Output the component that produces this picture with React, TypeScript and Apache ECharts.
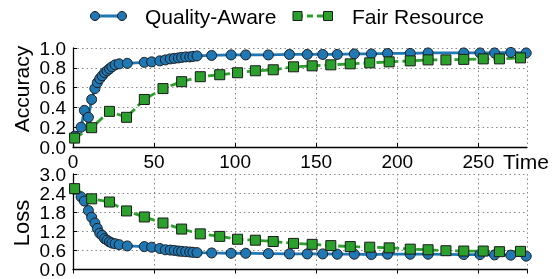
import React, { useEffect, useRef } from "react";
import * as echarts from "echarts";

const qaTime = [1, 5, 7, 9.5, 11.5, 13.5, 15, 16.5, 18, 19.5, 21, 22.5, 24, 26, 28.5, 33.5, 44, 48.5, 53.5, 57, 60, 62.5, 65, 67, 69.5, 72, 74, 76.5, 85.5, 97.5, 106.5, 120.5, 133.5, 144.5, 154, 163, 173.5, 184, 194, 208, 219, 241, 251, 260, 270, 279.5];
const qaAccuracy = [0.11, 0.2, 0.37, 0.3, 0.48, 0.59, 0.65, 0.69, 0.72, 0.75, 0.77, 0.79, 0.81, 0.83, 0.84, 0.845, 0.855, 0.86, 0.87, 0.88, 0.89, 0.895, 0.9, 0.905, 0.91, 0.91, 0.915, 0.92, 0.925, 0.93, 0.93, 0.93, 0.935, 0.935, 0.935, 0.935, 0.94, 0.94, 0.945, 0.945, 0.95, 0.95, 0.95, 0.95, 0.955, 0.95];
const qaLoss = [2.52, 2.28, 2.15, 1.85, 1.64, 1.46, 1.29, 1.14, 1.07, 0.97, 0.92, 0.87, 0.83, 0.81, 0.78, 0.74, 0.72, 0.7, 0.66, 0.62, 0.61, 0.6, 0.58, 0.57, 0.56, 0.55, 0.54, 0.53, 0.52, 0.51, 0.51, 0.5, 0.49, 0.49, 0.49, 0.48, 0.48, 0.47, 0.48, 0.48, 0.48, 0.47, 0.47, 0.46, 0.45, 0.42];

const frTime = [1, 11.5, 22.5, 33, 44, 55.5, 67, 78.5, 90.5, 101.5, 112.5, 123.5, 136, 147.5, 159, 171, 183, 195, 208, 219, 230, 241, 253, 263, 276];
const frAccuracy = [0.09, 0.195, 0.36, 0.3, 0.48, 0.59, 0.66, 0.71, 0.73, 0.75, 0.77, 0.78, 0.81, 0.82, 0.83, 0.84, 0.85, 0.86, 0.87, 0.88, 0.88, 0.885, 0.89, 0.89, 0.9];
const frLoss = [2.54, 2.22, 2.12, 1.84, 1.65, 1.46, 1.27, 1.12, 1.04, 0.95, 0.92, 0.88, 0.82, 0.79, 0.75, 0.72, 0.7, 0.68, 0.64, 0.62, 0.59, 0.58, 0.58, 0.56, 0.57];

const xTicks = [0, 50, 100, 150, 200, 250];
const accTicks = [0, 0.2, 0.4, 0.6, 0.8, 1.0];
const lossTicks = [0, 0.6, 1.2, 1.8, 2.4, 3.0];

const seriesNames = ["Quality-Aware", "Fair Resource"];
const BLUE = "#1f77b4";
const GREEN = "#2ca02c";
const FONT = "Liberation Sans, Arial, sans-serif";

const zip = (xs: number[], ys: number[]) => xs.map((x, i) => [x, ys[i]]);

export default function App() {
  const ref = useRef<HTMLDivElement>(null);
  useEffect(() => {
    if (!ref.current) return;
    const chart = echarts.init(ref.current, undefined, { renderer: "svg" });
    const grid = (top: number, height: number) => ({ left: 73, top, width: 454, height });
    const splitLine = { show: true, lineStyle: { color: "#888", type: [1.5, 3] as any, width: 1 } };
    const axisLine = { show: true, lineStyle: { color: "#000", width: 1.3 } };
    const axisTick = { show: true, inside: true, length: 4, lineStyle: { color: "#000", width: 1 } };
    const labelStyle = { color: "#000", fontSize: 19, lineHeight: 15, fontFamily: FONT, hideOverlap: false };
    const xAxisBase = {
      type: "value",
      min: xTicks[0],
      max: 280,
      interval: xTicks[1] - xTicks[0],
      axisLine,
      axisTick,
      splitLine,
    };
    const blueStyle = (xi: number) => ({
      type: "line",
      xAxisIndex: xi,
      yAxisIndex: xi,
      name: seriesNames[0],
      symbol: "circle",
      symbolSize: 10,
      lineStyle: { color: BLUE, width: 2.8 },
      itemStyle: { color: BLUE, borderColor: "#1a1a1a", borderWidth: 1 },
      clip: true,
    });
    const greenStyle = (xi: number) => ({
      type: "line",
      xAxisIndex: xi,
      yAxisIndex: xi,
      name: seriesNames[1],
      symbol: "rect",
      symbolSize: 10,
      lineStyle: { color: GREEN, width: 2.8, type: [9, 4] as any },
      itemStyle: { color: GREEN, borderColor: "#1a1a1a", borderWidth: 1 },
      clip: true,
    });
    const yLabel = { ...labelStyle, margin: 7, showMinLabel: true, showMaxLabel: true, formatter: (v: number) => v.toFixed(1) };
    const option: any = {
      animation: false,
      grid: [grid(48, 99), grid(174, 100)],
      xAxis: [
        {
          ...xAxisBase,
          gridIndex: 0,
          position: "bottom",
          axisLabel: { ...labelStyle, margin: 7, showMinLabel: true, showMaxLabel: false },
        },
        {
          ...xAxisBase,
          gridIndex: 1,
          position: "top",
          axisLabel: { show: false },
        },
      ],
      yAxis: [
        {
          type: "value",
          gridIndex: 0,
          min: accTicks[0],
          max: accTicks[accTicks.length - 1],
          interval: accTicks[1] - accTicks[0],
          axisLine,
          axisTick,
          splitLine,
          axisLabel: yLabel,
        },
        {
          type: "value",
          gridIndex: 1,
          min: lossTicks[0],
          max: lossTicks[lossTicks.length - 1],
          interval: lossTicks[1] - lossTicks[0],
          axisLine,
          axisTick,
          splitLine,
          axisLabel: yLabel,
        },
      ],
      series: [
        { ...blueStyle(0), data: zip(qaTime, qaAccuracy) },
        { ...greenStyle(0), data: zip(frTime, frAccuracy) },
        { ...blueStyle(1), data: zip(qaTime, qaLoss) },
        { ...greenStyle(1), data: zip(frTime, frLoss) },
      ],
      graphic: [
        // legend: Quality-Aware
        { type: "line", shape: { x1: 91, y1: 16, x2: 126, y2: 16 }, style: { stroke: BLUE, lineWidth: 2.8 } },
        { type: "circle", shape: { cx: 95, cy: 16, r: 4.5 }, style: { fill: BLUE, stroke: "#1a1a1a", lineWidth: 1 } },
        { type: "circle", shape: { cx: 122, cy: 16, r: 4.5 }, style: { fill: BLUE, stroke: "#1a1a1a", lineWidth: 1 } },
        { type: "text", x: 145, y: 16, style: { text: seriesNames[0], font: `21px ${FONT}`, fill: "#000", align: "left", verticalAlign: "middle", textAlign: "left", textVerticalAlign: "middle" } },
        // legend: Fair Resource
        { type: "line", shape: { x1: 297, y1: 16, x2: 328, y2: 16 }, style: { stroke: GREEN, lineWidth: 2.8, lineDash: [6, 4] } },
        { type: "rect", shape: { x: 293, y: 11.5, width: 9, height: 9 }, style: { fill: GREEN, stroke: "#1a1a1a", lineWidth: 1 } },
        { type: "rect", shape: { x: 323.5, y: 11.5, width: 9, height: 9 }, style: { fill: GREEN, stroke: "#1a1a1a", lineWidth: 1 } },
        { type: "text", x: 352, y: 16, style: { text: seriesNames[1], font: `21px ${FONT}`, fill: "#000", align: "left", verticalAlign: "middle", textAlign: "left", textVerticalAlign: "middle" } },
        // axis names
        { type: "text", x: 21, y: 89, rotation: Math.PI / 2, style: { text: "Accuracy", font: `21px ${FONT}`, fill: "#000", align: "center", verticalAlign: "middle", textAlign: "center", textVerticalAlign: "middle" } },
        { type: "text", x: 21, y: 223, rotation: Math.PI / 2, style: { text: "Loss", font: `22px ${FONT}`, fill: "#000", align: "center", verticalAlign: "middle", textAlign: "center", textVerticalAlign: "middle" } },
        { type: "text", x: 503, y: 161, style: { text: "Time", font: `21px ${FONT}`, fill: "#000", align: "left", verticalAlign: "middle", textAlign: "left", textVerticalAlign: "middle" } },
      ],
    };
    chart.setOption(option);
    return () => chart.dispose();
  }, []);
  return <div ref={ref} style={{ position: "fixed", left: 0, top: 0, width: 553, height: 279 }} />;
}
